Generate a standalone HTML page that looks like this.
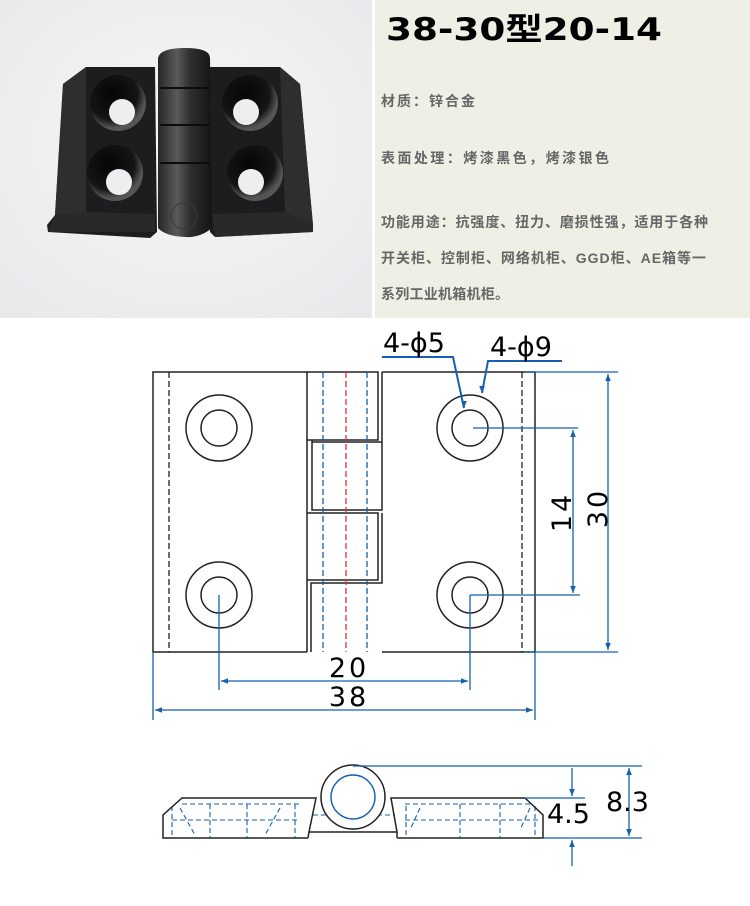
<!DOCTYPE html>
<html><head><meta charset="utf-8"><style>
html,body{margin:0;padding:0;background:#fff}
svg{display:block}
.cn{font-family:"Liberation Sans","Noto Sans CJK SC",sans-serif;font-weight:bold;fill:#666;font-size:14px}
.d{font-family:"DejaVu Sans","Liberation Sans",sans-serif;fill:#000;font-size:27px}
</style></head><body>
<svg width="750" height="906" viewBox="0 0 750 906" xmlns="http://www.w3.org/2000/svg">
<defs>
<marker id="a" viewBox="0 0 10 10" refX="10" refY="5" markerWidth="9" markerHeight="7" orient="auto-start-reverse" markerUnits="userSpaceOnUse"><path d="M0,1 L10,5 L0,9 z" fill="#1560b0"/></marker>
<radialGradient id="bg" cx="50%" cy="45%" r="70%"><stop offset="0" stop-color="#f7f7f9"/><stop offset="1" stop-color="#e9e9ec"/></radialGradient>
<linearGradient id="kn" x1="0" x2="1"><stop offset="0" stop-color="#262626"/><stop offset="0.35" stop-color="#5a5a5c"/><stop offset="0.6" stop-color="#2e2e2e"/><stop offset="1" stop-color="#141414"/></linearGradient>
<radialGradient id="hole" cx="40%" cy="35%" r="60%"><stop offset="0" stop-color="#050505"/><stop offset="0.75" stop-color="#151515"/><stop offset="1" stop-color="#555"/></radialGradient>
</defs>
<rect x="0" y="0" width="372" height="318" fill="url(#bg)"/>
<rect x="375" y="0" width="375" height="318" fill="#efefe5"/>
<polygon points="63,84 86,67 155,67 157,232 150,238 48,232 47,225 55,215" fill="#1d1d20"/>
<polygon points="63,84 86,67 86,212 55,215" fill="#2e2e31"/>
<polygon points="55,215 86,212 155,214 155,232 48,232" fill="#29292b"/>
<polygon points="210,67 280,67 300,84 313,225 313,232 215,237 210,232" fill="#1d1d20"/>
<polygon points="280,67 300,84 313,225 285,212" fill="#2e2e31"/>
<polygon points="212,214 285,212 313,225 313,232 215,237" fill="#29292b"/>
<path d="M158,58 Q160,48 185,48 Q210,48 210,58 L212,228 Q200,238 185,237 Q165,236 158,228 Z" fill="url(#kn)"/>
<line x1="160" y1="88" x2="210" y2="88" stroke="#0c0c0c" stroke-width="2"/>
<line x1="160" y1="125" x2="210" y2="125" stroke="#0c0c0c" stroke-width="2"/>
<line x1="160" y1="163" x2="210" y2="163" stroke="#0c0c0c" stroke-width="2"/>
<circle cx="184" cy="216" r="13" fill="none" stroke="#3a3a3a" stroke-width="1"/>
<g>
<circle cx="118" cy="103" r="28" fill="url(#hole)"/><circle cx="122" cy="112" r="13" fill="#eeeef1"/>
<circle cx="115" cy="173" r="28" fill="url(#hole)"/><circle cx="119" cy="182" r="13" fill="#eeeef1"/>
<circle cx="250" cy="103" r="28" fill="url(#hole)"/><circle cx="246" cy="112" r="13" fill="#eeeef1"/>
<circle cx="255" cy="173" r="28" fill="url(#hole)"/><circle cx="251" cy="182" r="13" fill="#eeeef1"/>
</g>
<text x="386" y="40" font-family="'DejaVu Sans','Noto Sans CJK SC',sans-serif" font-weight="bold" font-size="31" fill="#000" textLength="276" lengthAdjust="spacingAndGlyphs">38-30型20-14</text>
<text class="cn" x="381" y="106" textLength="94">材质：锌合金</text>
<text class="cn" x="381" y="163" textLength="228">表面处理：烤漆黑色，烤漆银色</text>
<text class="cn" x="381" y="227" textLength="327">功能用途：抗强度、扭力、磨损性强，适用于各种</text>
<text class="cn" x="381" y="263" textLength="325">开关柜、控制柜、网络机柜、GGD柜、AE箱等一</text>
<text class="cn" x="381" y="299" textLength="128">系列工业机箱机柜。</text>

<g fill="none" stroke="#222" stroke-width="1.5">
<polyline points="307,652 153,652 153,372 307,372 307,440"/>
<polyline points="382,372 535,372 535,652 382,652"/>
<polyline points="307,372 378,372 378,440 307,440 307,652"/>
<polyline points="312,440 312,510 382,510 382,372"/>
<polyline points="312,442 382,442"/>
<polyline points="307,513 378,513 378,580 307,580"/>
<polyline points="311,652 311,583 382,583 382,513"/>
<circle cx="219" cy="428" r="33"/><circle cx="219" cy="428" r="18"/>
<circle cx="219" cy="595" r="33"/><circle cx="219" cy="595" r="18"/>
<circle cx="470" cy="428" r="33"/><circle cx="470" cy="428" r="18"/>
<circle cx="470" cy="595" r="33"/><circle cx="470" cy="595" r="18"/>
</g>
<g stroke-width="1.3" stroke-dasharray="6,3" fill="none">
<line x1="169" y1="372" x2="169" y2="652" stroke="#222"/>
<line x1="522" y1="372" x2="522" y2="652" stroke="#222"/>
<line x1="323" y1="372" x2="323" y2="652" stroke="#1560b0"/>
<line x1="367" y1="372" x2="367" y2="652" stroke="#1560b0"/>
<line x1="346" y1="372" x2="346" y2="652" stroke="#e83030"/>
</g>
<g stroke="#1560b0" stroke-width="1.3" fill="none">
<line x1="473" y1="428" x2="578" y2="428"/>
<line x1="470" y1="595" x2="580" y2="595"/>
<line x1="573" y1="430" x2="573" y2="593" marker-start="url(#a)" marker-end="url(#a)"/>
<line x1="525" y1="372" x2="618" y2="372"/>
<line x1="525" y1="652" x2="618" y2="652"/>
<line x1="608" y1="374" x2="608" y2="650" marker-start="url(#a)" marker-end="url(#a)"/>
<line x1="219" y1="595" x2="219" y2="690"/>
<line x1="470" y1="595" x2="470" y2="690"/>
<line x1="221" y1="681" x2="468" y2="681" marker-start="url(#a)" marker-end="url(#a)"/>
<line x1="153" y1="652" x2="153" y2="720"/>
<line x1="535" y1="652" x2="535" y2="720"/>
<line x1="155" y1="710" x2="533" y2="710" marker-start="url(#a)" marker-end="url(#a)"/>
<polyline points="382,357 453,357 464,408" stroke-width="2"/>
<polyline points="464,406 464,408" marker-end="url(#a)"/>
<polyline points="562,361 488,361 482,393" stroke-width="2"/>
<polyline points="482,391 482,393" marker-end="url(#a)"/>
</g>
<text class="d" x="383" y="352">4-ϕ5</text>
<text class="d" x="490" y="356">4-ϕ9</text>
<text class="d" x="349" y="677" text-anchor="middle" letter-spacing="3">20</text>
<text class="d" x="349" y="706" text-anchor="middle" letter-spacing="3">38</text>
<text class="d" transform="translate(571,512) rotate(-90)" text-anchor="middle" letter-spacing="3">14</text>
<text class="d" transform="translate(607,508) rotate(-90)" text-anchor="middle" letter-spacing="3">30</text>

<g stroke="#1560b0" stroke-width="1.1" fill="none" stroke-dasharray="5,3">
<line x1="182" y1="804" x2="300" y2="804"/><line x1="172" y1="820" x2="300" y2="820"/>
<line x1="172" y1="806" x2="172" y2="838"/><line x1="210" y1="804" x2="210" y2="838"/><line x1="247" y1="804" x2="247" y2="838"/><line x1="295" y1="804" x2="295" y2="838"/>
<line x1="180" y1="808" x2="195" y2="835"/><line x1="280" y1="808" x2="265" y2="835"/>
<line x1="405" y1="804" x2="530" y2="804"/><line x1="405" y1="820" x2="538" y2="820"/>
<line x1="406" y1="806" x2="406" y2="838"/><line x1="460" y1="804" x2="460" y2="838"/><line x1="500" y1="804" x2="500" y2="838"/><line x1="535" y1="806" x2="535" y2="838"/>
<line x1="420" y1="808" x2="410" y2="830"/><line x1="530" y1="808" x2="520" y2="830"/>
<line x1="313" y1="815" x2="395" y2="815"/>
</g>
<g stroke="#222" stroke-width="1.5" fill="none">
<polyline points="308,838 163,838 163,815 182,798 316,798 309,832 397,832 391,798 525,798 543,815 543,838 397,838"/>
<line x1="397" y1="832" x2="397" y2="838"/>
<line x1="309" y1="832" x2="308" y2="838"/>
<circle cx="353" cy="797" r="32" fill="#fff"/>
</g>
<circle cx="353" cy="797" r="22" fill="none" stroke="#1560b0" stroke-width="1.4"/>
<g stroke="#1560b0" stroke-width="1.3" fill="none">
<line x1="353" y1="766" x2="642" y2="766"/>
<line x1="543" y1="838" x2="642" y2="838"/>
<line x1="525" y1="798" x2="585" y2="798"/>
<line x1="629" y1="768" x2="629" y2="836" marker-start="url(#a)" marker-end="url(#a)"/>
<line x1="572" y1="768" x2="572" y2="796" marker-end="url(#a)"/>
<line x1="572" y1="866" x2="572" y2="840" marker-end="url(#a)"/>
</g>
<text class="d" x="547" y="823" font-size="26">4.5</text>
<text class="d" x="606" y="811" font-size="26">8.3</text>
</svg>
</body></html>
